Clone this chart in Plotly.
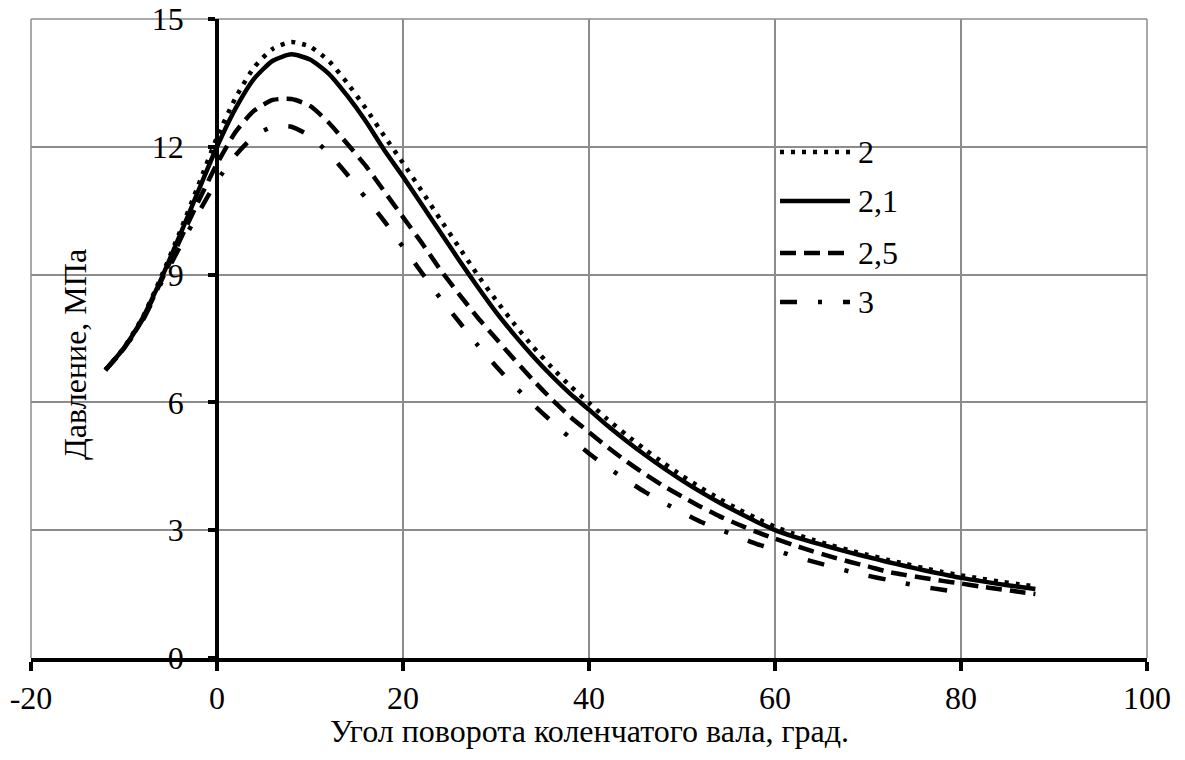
import plotly.graph_objects as go

# ---------------- data ----------------
angle = [-12, -10, -8, -6, -4, -2, 0, 2, 4, 6, 8, 10, 12, 14, 16, 18, 20, 22, 24, 26, 28, 30,
         32, 34, 36, 38, 40, 42, 44, 46, 48, 50, 52, 54, 56, 58, 60, 62, 64, 66, 68, 70,
         72, 74, 76, 78, 80, 82, 84, 86, 88]

p_2 = [6.76, 7.29, 8.0, 8.95, 10.0, 11.1, 12.22, 13.15, 13.87, 14.3, 14.46, 14.35, 14.02,
       13.5, 12.9, 12.25, 11.62, 10.97, 10.3, 9.65, 9.0, 8.4, 7.83, 7.3, 6.82, 6.38, 5.99,
       5.6, 5.24, 4.9, 4.58, 4.28, 4.0, 3.74, 3.5, 3.28, 3.08, 2.92, 2.78, 2.65, 2.53, 2.42,
       2.31, 2.21, 2.11, 2.02, 1.94, 1.87, 1.8, 1.74, 1.68]

p_21 = [6.76, 7.28, 7.98, 8.9, 9.92, 10.97, 12.0, 12.9, 13.6, 14.02, 14.17, 14.05, 13.72,
        13.2, 12.6, 11.92, 11.3, 10.65, 10.0, 9.35, 8.72, 8.12, 7.58, 7.08, 6.62, 6.2, 5.83,
        5.45, 5.1, 4.77, 4.46, 4.17, 3.9, 3.65, 3.42, 3.2, 3.0, 2.85, 2.72, 2.6, 2.48, 2.37,
        2.26, 2.16, 2.06, 1.97, 1.88, 1.81, 1.74, 1.68, 1.62]

p_25 = [6.76, 7.27, 7.95, 8.85, 9.8, 10.72, 11.6, 12.35, 12.85, 13.1, 13.12, 12.96, 12.57,
        12.07, 11.55, 10.95, 10.35, 9.75, 9.12, 8.55, 8.0, 7.5, 7.0, 6.52, 6.07, 5.66, 5.3,
        4.95, 4.62, 4.32, 4.04, 3.79, 3.55, 3.33, 3.14, 2.96, 2.8, 2.65, 2.51, 2.38, 2.26,
        2.15, 2.03, 1.95, 1.88, 1.81, 1.75, 1.68, 1.62, 1.56, 1.5]

angle_3 = [-12, -10, -8, -6, -4, -2, 0, 2, 4, 6, 8, 10, 12, 14, 16, 18, 20, 22, 24, 26, 28,
           30, 32, 34, 36, 38, 40, 42, 44, 46, 48, 50, 52, 54, 56, 58, 60, 62, 64, 66, 68,
           70, 72, 74, 76, 78, 80]
p_3 = [6.76, 7.26, 7.92, 8.8, 9.65, 10.45, 11.2, 11.8, 12.25, 12.47, 12.47, 12.25, 11.85,
       11.35, 10.8, 10.25, 9.65, 9.05, 8.45, 7.9, 7.35, 6.85, 6.38, 5.95, 5.55, 5.16, 4.8,
       4.48, 4.18, 3.9, 3.65, 3.42, 3.2, 3.02, 2.85, 2.68, 2.54, 2.39, 2.27, 2.15, 2.03,
       1.93, 1.84, 1.75, 1.67, 1.6, 1.53]

series_names = ["2", "2,1", "2,5", "3"]
x_ticks = [-20, 0, 20, 40, 60, 80, 100]
y_ticks = [0, 3, 6, 9, 12, 15]
x_title = "Угол поворота коленчатого вала, град."
y_title = "Давление, МПа"

# ---------------- styles ----------------
FONT = "Liberation Serif"
FS = 32
dashes = ["4px,7px", "solid", "16px,8px", "17px,21px,4px,21px"]
widths = [4.5, 4.5, 4.5, 4.5]

W, H = 1185, 760
L, R, T, B = 31, 38, 19, 102


def px2paper(px, py):
    return (px - L) / (W - L - R), (H - B - py) / (H - T - B)


fig = go.Figure()
xs = [angle, angle, angle, angle_3]
ys = [p_2, p_21, p_25, p_3]
for name, x, y, d, w in zip(series_names, xs, ys, dashes, widths):
    fig.add_trace(go.Scatter(x=x, y=y, mode="lines", name=name, showlegend=False,
                             line=dict(color="black", width=w, dash=d, shape="spline",
                                       smoothing=0.6)))

# manual legend (long line samples as in the reference)
leg_y = [152, 201, 253, 302]
leg_x0, leg_x1, txt_x = 780, 850, 856
for name, d, w, ly in zip(series_names, dashes, widths, leg_y):
    x0, y0 = px2paper(leg_x0, ly)
    x1, _ = px2paper(leg_x1, ly)
    fig.add_shape(type="line", xref="paper", yref="paper", x0=x0, x1=x1, y0=y0, y1=y0,
                  line=dict(color="black", width=w, dash=d))
    tx, _ = px2paper(txt_x, ly)
    fig.add_annotation(xref="paper", yref="paper", x=tx, y=y0, text=name, showarrow=False,
                       xanchor="left", yanchor="middle", font=dict(family=FONT, size=FS, color="black"))

# y axis title
ax, ay = px2paper(75, 355)
fig.add_annotation(xref="paper", yref="paper", x=ax, y=ay, text=y_title, textangle=-90,
                   showarrow=False, xanchor="center", yanchor="middle",
                   font=dict(family=FONT, size=FS, color="black"))

# x axis title
tx, ty = px2paper(589, 731)
fig.add_annotation(xref="paper", yref="paper", x=tx, y=ty, text=x_title,
                   showarrow=False, xanchor="center", yanchor="middle",
                   font=dict(family=FONT, size=FS, color="black"))

fig.update_layout(
    width=W, height=H,
    margin=dict(l=L, r=R, t=T, b=B, pad=0, autoexpand=False),
    paper_bgcolor="white", plot_bgcolor="white",
    font=dict(family=FONT, size=FS, color="black"),
    showlegend=False,
    xaxis=dict(range=[-20, 100], tickvals=x_ticks, ticktext=[str(v) for v in x_ticks],
               showgrid=True, gridcolor="#8c8c8c", gridwidth=1.5, automargin=False,
               zeroline=False, showline=True, linecolor="black", linewidth=3.5,
               ticks="outside", ticklen=9, tickwidth=3.5, tickcolor="black",
               tickfont=dict(family=FONT, size=FS), domain=[0, 1]),
    yaxis=dict(range=[0, 15], tickvals=y_ticks, ticktext=[str(v) for v in y_ticks],
               showgrid=True, gridcolor="#8c8c8c", gridwidth=1.5, automargin=False,
               zeroline=False, showline=True, linecolor="black", linewidth=3.5,
               ticks="outside", ticklen=7, tickwidth=3.5, tickcolor="black",
               tickfont=dict(family=FONT, size=FS),
               anchor="free", position=1 / 6, ticklabelstandoff=18),
)

# right, top and left gray borders (gridlines at the edges)
fig.add_shape(type="line", xref="paper", yref="paper", x0=1, x1=1, y0=0, y1=1,
              line=dict(color="#8c8c8c", width=1.5), layer="below")
fig.add_shape(type="line", xref="paper", yref="paper", x0=0, x1=1, y0=1, y1=1,
              line=dict(color="#8c8c8c", width=1.5), layer="below")
fig.add_shape(type="line", xref="paper", yref="paper", x0=0, x1=0, y0=0, y1=1,
              line=dict(color="#8c8c8c", width=1.5), layer="below")

fig.write_html("out.html")
